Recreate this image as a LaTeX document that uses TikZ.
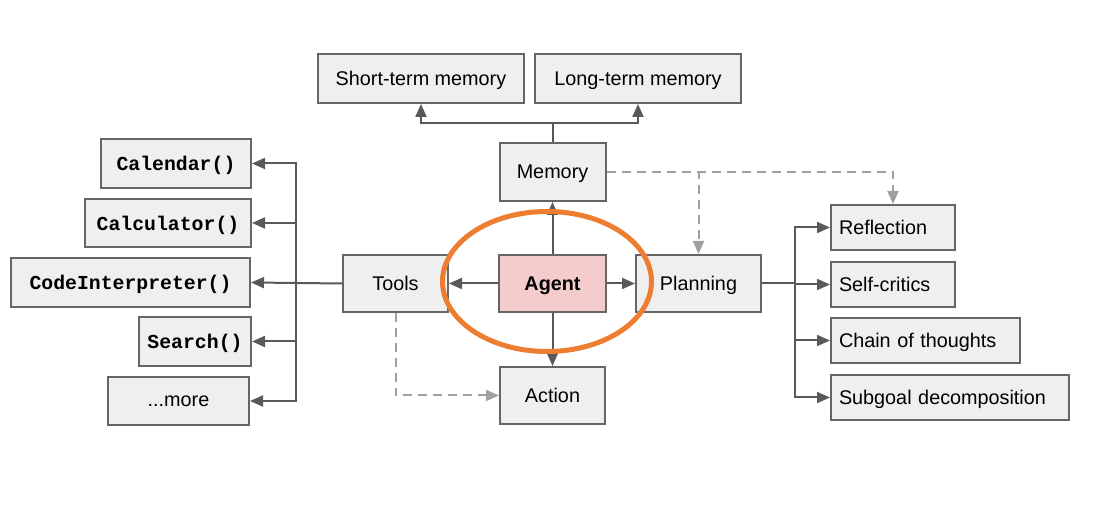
\documentclass[tikz,border=0pt]{standalone}
\usepackage{fontspec}
\setmainfont{Liberation Sans}
\setmonofont{Liberation Mono}
\usetikzlibrary{arrows.meta, calc}

\definecolor{boxfill}{HTML}{EFEFEF}
\definecolor{boxline}{HTML}{666666}
\definecolor{linkgray}{HTML}{595959}
\definecolor{dashgray}{HTML}{A0A0A0}
\definecolor{agentpink}{HTML}{F4CCCC}
\definecolor{ringorange}{HTML}{ED7D31}

\begin{document}
\begin{tikzpicture}[x=0.5pt, y=-0.5pt, >={Triangle[length=6.5pt, width=5.5pt]},
    box/.style={draw=boxline, fill=boxfill, line width=1pt, inner sep=0pt, text depth=0pt,
      font=\fontsize{9.9}{12}\selectfont},
    toolbox/.style={box, font=\fontsize{9.9}{12}\selectfont\ttfamily\bfseries},
    stepbox/.style={box, anchor=west, align=left, inner xsep=4pt, minimum height=22.5pt},
    link/.style={draw=linkgray, line width=1pt},
    dashlink/.style={draw=dashgray, line width=1pt, dash pattern=on 4.5pt off 3pt}]
        \useasboundingbox (0,0) rectangle (1105,522);

        % Memory
        \node[box, minimum width=103pt, minimum height=24.5pt] (stm) at (421,78.5) {Short-term memory};
        \node[box, minimum width=103pt, minimum height=24.5pt] (ltm) at (638,78.5) {Long-term memory};
        \node[box, minimum width=53pt, minimum height=29pt] (memory) at (552.5,172) {Memory};

        % Centre row
        \node[box, fill=agentpink, font=\fontsize{9.9}{12}\selectfont\bfseries,
              minimum width=53.5pt, minimum height=28.5pt] (agent) at (552.5,283.5) {Agent};
        \node[box, minimum width=52.5pt, minimum height=28.5pt] (tools) at (395.5,283.5) {Tools};
        \node[box, minimum width=62.5pt, minimum height=28.5pt] (planning) at (698.5,283.5) {Planning};
        \node[box, minimum width=52.5pt, minimum height=28.5pt] (action) at (552.5,395.5) {Action};

        % Tools
        \node[toolbox, minimum width=75pt, minimum height=24.5pt] (calendar) at (176,163.5) {Calendar()};
        \node[toolbox, minimum width=83pt, minimum height=24pt] (calculator) at (168,223) {Calculator()};
        \node[toolbox, minimum width=119.5pt, minimum height=24.5pt] (code) at (130.5,282.5) {CodeInterpreter()};
        \node[toolbox, minimum width=56pt, minimum height=24.5pt] (search) at (195,341.5) {Search()};
        \node[box, minimum width=70.5pt, minimum height=24pt] (more) at (178.5,401) {...more};

        % Planning
        \node[stepbox, text width=54pt] (reflection) at (830,227.5) {Reflection};
        \node[stepbox, text width=54pt] (selfcrit) at (830,284.5) {Self-critics};
        \node[stepbox, text width=86.5pt] (chain) at (830,340.5) {Chain of thoughts};
        \node[stepbox, text width=111pt] (subgoal) at (830,397.5) {Subgoal decomposition};

        % Branch points
        \coordinate (membus) at (552.5,123);
        \coordinate (toolbus) at (296,283.5);
        \coordinate (planbus) at (795,283.5);

        % Connectors
        \draw[link] (memory.north) -- (membus);
        \draw[link, ->] (membus) -| (stm.south);
        \draw[link, ->] (membus) -| (ltm.south);
        \draw[link, ->] (agent.north) -- (memory.south);
        \draw[link, ->] (agent.south) -- (action.north);
        \draw[link, ->] (agent.west) -- (tools.east);
        \draw[link, ->] (agent.east) -- (planning.west);
        \draw[link, ->] (tools.west) -- (code.east);
        \foreach \t in {calendar, calculator, search, more} {
          \draw[link, ->] (toolbus) |- (\t.east);
        }
        \draw[link] (planning.east) -- (planbus);
        \foreach \s in {reflection, selfcrit, chain, subgoal} {
          \draw[link, ->] (planbus) |- (\s.west);
        }

        % Dashed links
        \draw[dashlink, ->] (memory.east) -| (reflection.north);
        \draw[dashlink, ->] (memory.east) -| (planning.north);
        \draw[dashlink, ->] (tools.south) |- (action.west);

        % Highlight
        \draw[ringorange, line width=2.5pt] (547,281.5) ellipse [x radius=52.25pt, y radius=35pt];

      \end{tikzpicture}
\end{document}
